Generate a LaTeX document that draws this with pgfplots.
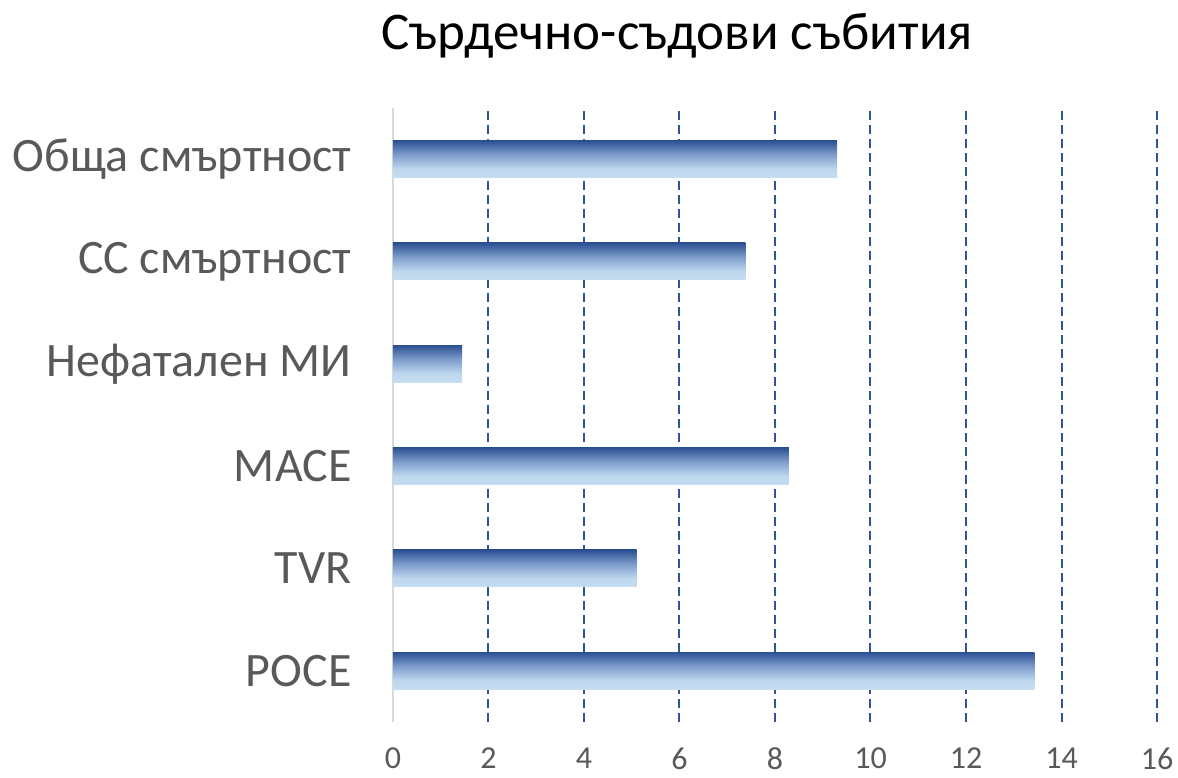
\documentclass[border=0pt]{standalone}
\usepackage{fontspec}
\setmainfont{Carlito}
\usepackage{pgfplots}
\pgfplotsset{compat=1.18}
\definecolor{gridblue}{HTML}{2F5597}
\definecolor{labelgray}{HTML}{595959}
\definecolor{axgray}{HTML}{D9D9D9}
\definecolor{bdark}{HTML}{2C5193}
\definecolor{bmid}{HTML}{7F9DCC}
\definecolor{blight}{HTML}{BDD7EE}
\definecolor{blighttwo}{HTML}{C6DDF1}
\pgfdeclareverticalshading{barshade}{100bp}{color(0bp)=(blighttwo); color(25bp)=(blighttwo); color(37bp)=(blight); color(56bp)=(bmid); color(75bp)=(bdark); color(100bp)=(bdark)}
\pgfplotsset{barstyle/.style={xbar, bar width=37pt, bar shift=0pt, draw=none, shading=barshade}}
\begin{document}
\begin{tikzpicture}
\useasboundingbox (-393pt,-56pt) rectangle (785pt,722pt);
\begin{axis}[
  scale only axis, width=764pt, height=614pt,
  xmin=0, xmax=16, ymin=0.5, ymax=6.5,
  xtick={0,2,...,16}, minor xtick={2,4,...,16},
  ytick={1,...,6},
  yticklabels={POCE,TVR,MACE,Нефатален МИ,СС смъртност,Обща смъртност},
  axis lines*=left,
  x axis line style={draw=none},
  y axis line style={draw=axgray, line width=2pt},
  xminorgrids,
  minor grid style={draw=gridblue, line width=2pt, dash pattern=on 9pt off 5pt},
  major tick length=0pt, minor tick length=0pt,
  tick style={draw=none},
  xticklabel style={font=\fontsize{32}{38}\selectfont, text=labelgray, yshift=-22pt},
  yticklabel style={font=\fontsize{48}{54}\selectfont, text=labelgray, xshift=-38pt},
  /pgf/number format/assume math mode=true,
]
\addplot[barstyle] coordinates {(13.43,1)};
\addplot[barstyle] coordinates {(5.1,2)};
\addplot[barstyle] coordinates {(8.29,3)};
\addplot[barstyle] coordinates {(1.45,4)};
\addplot[barstyle] coordinates {(7.38,5)};
\addplot[barstyle] coordinates {(9.3,6)};
\end{axis}
\node[anchor=base, font=\fontsize{53}{60}\selectfont] at (284pt,672pt) {Сърдечно-съдови събития};
\end{tikzpicture}
\end{document}
